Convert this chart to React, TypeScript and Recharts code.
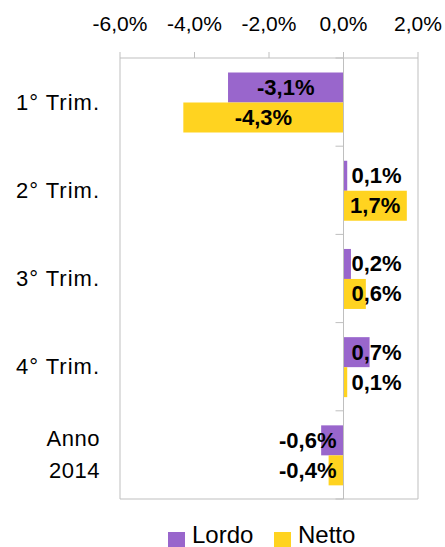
import { BarChart, Bar, XAxis, YAxis, CartesianGrid, Legend, LabelList, ReferenceLine } from 'recharts';

const categories = ['1° Trim.', '2° Trim.', '3° Trim.', '4° Trim.', 'Anno 2014'];
const lordo = [-3.1, 0.1, 0.2, 0.7, -0.6];
const netto = [-4.3, 1.7, 0.6, 0.1, -0.4];
const xTicks = [-6, -4, -2, 0, 2];

const data = categories.map((name, i) => ({ name, lordo: lordo[i], netto: netto[i] }));

const FONT = '"Liberation Sans", Arial, sans-serif';
const PURPLE = '#9966CC';
const YELLOW = '#FFD320';
const GRID = '#BFBFBF';

function fmtPct(v: number) {
  return v.toFixed(1).replace('.', ',') + '%';
}

function CategoryTick(props: any) {
  const { x, y, payload } = props;
  const text = String(payload.value);
  const lines = text.startsWith('Anno') ? text.split(' ') : [text];
  const step = 32;
  const start = -((lines.length - 1) * step) / 2;
  return (
    <g>
      {lines.map((l, i) => (
        <text
          key={i}
          x={x}
          y={y + start + i * step}
          textAnchor="end"
          dominantBaseline="central"
          fontFamily={FONT}
          fontSize={22}
          letterSpacing={l.includes('Trim') ? 1 : 0.5}
          fill="#000"
        >
          {l}
        </text>
      ))}
    </g>
  );
}

function BarLabel(props: any) {
  const vb = props.viewBox ?? props;
  const x = vb.x ?? props.x;
  const y = vb.y ?? props.y;
  const w = vb.width ?? props.width;
  const h = vb.height ?? props.height;
  const value = Number(props.value);
  const left = Math.min(x, x + w);
  const right = Math.max(x, x + w);
  const cy = Math.min(y, y + h) + Math.abs(h) / 2;
  let tx: number;
  let anchor: 'start' | 'middle' | 'end';
  if (right - left > 60) {
    tx = (left + right) / 2;
    anchor = 'middle';
  } else if (value >= 0) {
    tx = left + 8;
    anchor = 'start';
  } else {
    tx = right - 7;
    anchor = 'end';
  }
  return (
    <text
      x={tx}
      y={cy}
      textAnchor={anchor}
      dominantBaseline="central"
      fontFamily={FONT}
      fontWeight="bold"
      fontSize={22}
      fill="#000"
    >
      {fmtPct(value)}
    </text>
  );
}

function ZeroAxis(props: any) {
  const { x1, y1, x2, y2 } = props;
  const n = categories.length;
  const marks = [];
  for (let k = 0; k <= n; k++) {
    const yy = y1 + ((y2 - y1) * k) / n;
    marks.push(<line key={k} x1={x1 - 8} x2={x1} y1={yy} y2={yy} stroke={GRID} strokeWidth={1} />);
  }
  return (
    <g>
      <line x1={x1} y1={y1} x2={x2} y2={y2} stroke={GRID} strokeWidth={1} />
      {marks}
    </g>
  );
}

const legendItems = [
  { label: 'Lordo', color: PURPLE, left: 168 },
  { label: 'Netto', color: YELLOW, left: 274 },
];

function LegendContent() {
  return (
    <div style={{ position: 'relative', height: 47, fontFamily: FONT, fontSize: 24, color: '#000' }}>
      {legendItems.map((it) => (
        <div key={it.label}>
          <span
            style={{
              position: 'absolute',
              left: it.left,
              top: 32,
              width: 17,
              height: 15,
              background: it.color,
            }}
          />
          <span style={{ position: 'absolute', left: it.left + 24, top: 23, lineHeight: '24px', whiteSpace: 'nowrap' }}>
            {it.label}
          </span>
        </div>
      ))}
    </div>
  );
}

export default function App() {
  return (
    <div style={{ width: 445, height: 547, background: '#fff', overflow: 'hidden' }}>
      <style>{`body{margin:0}`}</style>
      <BarChart
        width={445}
        height={547}
        data={data}
        layout="vertical"
        margin={{ top: 0, right: 27, bottom: 0, left: 0 }}
        barCategoryGap="16.5%"
        barGap={0}
      >
        <CartesianGrid horizontal={false} stroke={GRID} />
        <XAxis
          xAxisId="top"
          type="number"
          orientation="top"
          domain={[-6, 2]}
          ticks={xTicks}
          tickFormatter={(v: number) => fmtPct(v)}
          height={58}
          tickSize={6}
          tickMargin={21}
          stroke={GRID}
          tick={{ fill: '#000', fontSize: 21, fontFamily: FONT }}
          allowDataOverflow
        />
        <XAxis
          xAxisId="bottom"
          type="number"
          orientation="bottom"
          domain={[-6, 2]}
          ticks={xTicks}
          height={1}
          tick={false}
          tickLine={false}
          stroke={GRID}
        />
        <YAxis
          type="category"
          dataKey="name"
          width={120}
          axisLine={false}
          tickLine={false}
          tickSize={0}
          tickMargin={20}
          tick={<CategoryTick />}
        />
        <ReferenceLine xAxisId="top" x={0} shape={<ZeroAxis />} />
        <Bar xAxisId="top" dataKey="lordo" name="Lordo" fill={PURPLE} isAnimationActive={false}>
          <LabelList dataKey="lordo" content={<BarLabel />} />
        </Bar>
        <Bar xAxisId="top" dataKey="netto" name="Netto" fill={YELLOW} isAnimationActive={false}>
          <LabelList dataKey="netto" content={<BarLabel />} />
        </Bar>
        <Legend verticalAlign="bottom" height={47} content={<LegendContent />} />
      </BarChart>
    </div>
  );
}
